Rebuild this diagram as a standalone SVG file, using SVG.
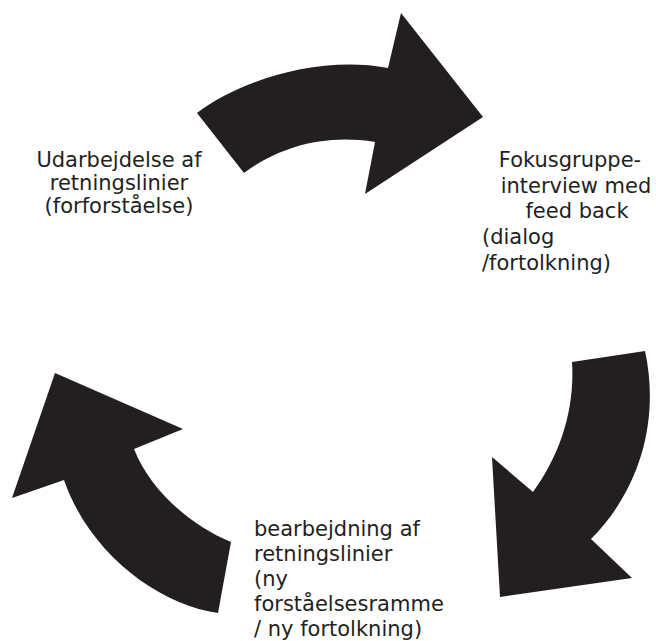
<svg xmlns="http://www.w3.org/2000/svg" width="656" height="641" viewBox="0 0 656 641">
<style>
.arrow{fill:#231f20;stroke:none}
.lbl{font-family:"DejaVu Sans","Verdana",sans-serif;font-size:21px;fill:#231f20}
.c{text-anchor:middle}
</style>
<rect width="656" height="641" fill="#ffffff"/>
<g id="connectors">
<path id="arrow-top" class="arrow" d="M197,113 C240,80 320,55 388,68 L401,13 L483,117 L365,194 L375,142 C320,133 275,150 244,173 Z"/>
<path id="arrow-right" class="arrow" d="M572,362 L645,351 C660,420 640,490 591,539 L632,578 L500,597 L492,457 L533,492 C560,455 575,410 572,362 Z"/>
<path id="arrow-left" class="arrow" d="M218,613 C160,605 90,555 64,480 L12,498 L55,373 L183,429 L134,449 C150,490 190,525 231,542 Z"/>
</g>
<g id="node-udarbejdelse">
<text class="lbl c" x="119" y="167">Udarbejdelse af</text>
<text class="lbl c" x="119" y="190">retningslinier</text>
<text class="lbl c" x="119" y="213">(forforståelse)</text>
</g>
<g id="node-fokusgruppe">
<text class="lbl c" x="570" y="167">Fokusgruppe-</text>
<text class="lbl c" x="576" y="193">interview med</text>
<text class="lbl c" x="577" y="218">feed back</text>
<text class="lbl" x="482" y="244">(dialog</text>
<text class="lbl" x="482" y="270">/fortolkning)</text>
</g>
<g id="node-bearbejdning">
<text class="lbl" x="254" y="536">bearbejdning af</text>
<text class="lbl" x="254" y="561">retningslinier</text>
<text class="lbl" x="254" y="586">(ny</text>
<text class="lbl" x="254" y="611">forståelsesramme</text>
<text class="lbl" x="254" y="636">/ ny fortolkning)</text>
</g>
</svg>
